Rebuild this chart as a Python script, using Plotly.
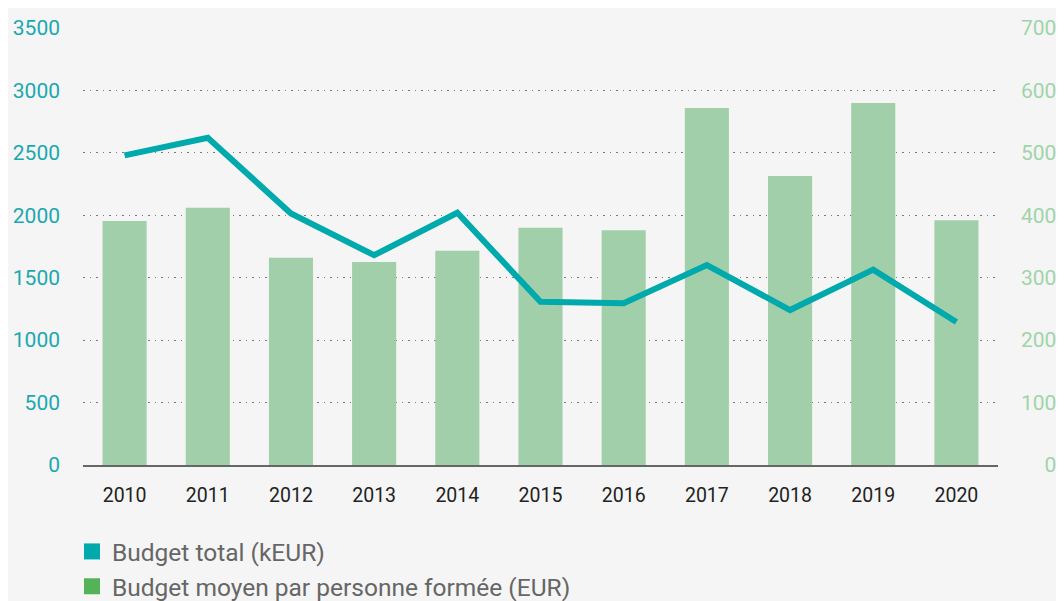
import plotly.graph_objects as go

years = ["2010", "2011", "2012", "2013", "2014", "2015", "2016", "2017", "2018", "2019", "2020"]
budget_total = [2480, 2620, 2015, 1680, 2020, 1307, 1295, 1601, 1241, 1565, 1145]
budget_moyen = [391, 412, 332, 325, 343, 380, 376, 572, 463, 580, 392]

left_ticks = [0, 500, 1000, 1500, 2000, 2500, 3000, 3500]
right_ticks = [0, 100, 200, 300, 400, 500, 600, 700]

name_total = "Budget total (kEUR)"
name_moyen = "Budget moyen par personne formée (EUR)"

TEAL = "#00a9ac"
BAR = "#a0cfaa"
GREEN = "#55b256"
FONT = "Roboto"

fig = go.Figure()
# bars on the primary axis (right side, 0-700), line on overlaying axis (left side) so it is drawn on top
fig.add_trace(go.Bar(x=years, y=budget_moyen, yaxis="y", marker=dict(color=BAR, line=dict(width=0)),
                     name=name_moyen, showlegend=False))
fig.add_trace(go.Scatter(x=years, y=budget_total, yaxis="y2", mode="lines", line=dict(color=TEAL, width=6),
                         name=name_total, showlegend=False))
# legend entries
fig.add_trace(go.Scatter(x=[None], y=[None], mode="markers", name=name_total, legendgroup="a",
                         marker=dict(symbol="square", size=18, color=TEAL)))
fig.add_trace(go.Scatter(x=[None], y=[None], mode="markers", name=name_moyen, legendgroup="b",
                         marker=dict(symbol="square", size=18, color=GREEN)))

fs = "\u2007"
right_text = [fs * (3 - len(str(v))) + str(v) for v in right_ticks]

W, H = 1056, 593  # page has an 8px body margin
fig.update_layout(
    width=W, height=H,
    paper_bgcolor="#f5f5f5", plot_bgcolor="#f5f5f5",
    margin=dict(l=75, r=66, t=20, b=136, autoexpand=False),
    font=dict(family=FONT, size=20, color="#222222"),
    bargap=0.47,
    xaxis=dict(showgrid=False, showline=True, linecolor="#666666", linewidth=2,
               ticks="", ticklabelstandoff=12, tickfont=dict(size=19.5, color="#222222")),
    yaxis=dict(range=[0, 700], side="right", tickvals=right_ticks, ticktext=right_text,
               showgrid=True, gridcolor="#7a7a7a", griddash="1.5px,5px", gridwidth=1,
               zeroline=False, ticks="", ticklabelstandoff=22,
               tickfont=dict(size=21, color="#a0d4aa")),
    yaxis2=dict(range=[0, 3500], overlaying="y", side="left", tickvals=left_ticks,
                showgrid=False, zeroline=False, ticks="", ticklabelstandoff=22,
                tickfont=dict(size=21, color="#1aa8b0")),
    legend=dict(x=64 / W, xanchor="left", xref="container", y=(H - 521) / H, yanchor="top",
                yref="container", orientation="v",
                font=dict(size=24.5, color="#666666"), tracegroupgap=0, bgcolor="rgba(0,0,0,0)"),
    showlegend=True,
)

fig.write_html("out.html")
